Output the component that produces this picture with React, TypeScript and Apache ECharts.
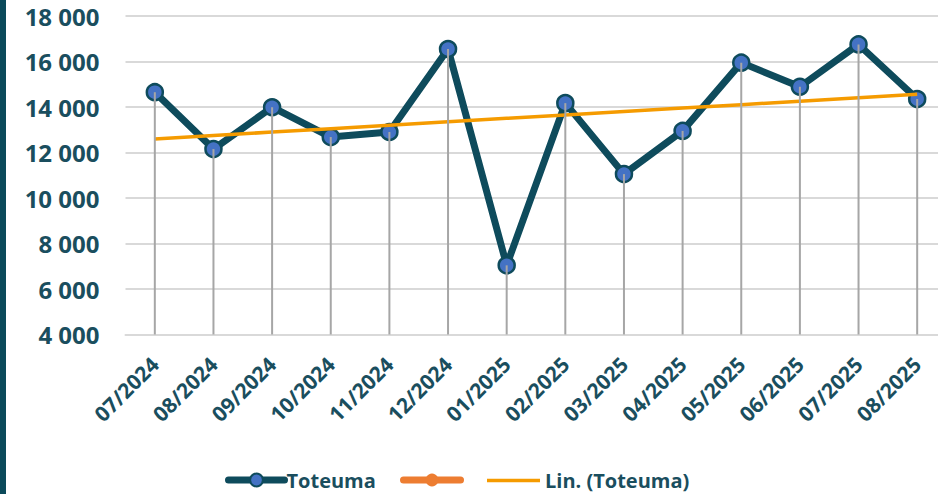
import React, { useEffect, useRef } from "react";
import * as echarts from "echarts";

const categories = [
  "07/2024", "08/2024", "09/2024", "10/2024", "11/2024", "12/2024", "01/2025",
  "02/2025", "03/2025", "04/2025", "05/2025", "06/2025", "07/2025", "08/2025",
];
const toteuma = [14650, 12150, 13990, 12680, 12900, 16550, 7040, 14170, 11050, 12950, 15950, 14890, 16750, 14350];
const yTicks = { min: 4000, max: 18000, interval: 2000 };

const DARK = "#0e4b5c";
const TEXT = "#1a4e5e";
const FONT = "'Open Sans', sans-serif";

function linearTrend(values: number[]): number[] {
  const n = values.length;
  const mx = (n - 1) / 2;
  const my = values.reduce((a, b) => a + b, 0) / n;
  let sxy = 0, sxx = 0;
  values.forEach((v, i) => { sxy += (i - mx) * (v - my); sxx += (i - mx) * (i - mx); });
  const slope = sxy / sxx;
  return values.map((_, i) => my + slope * (i - mx));
}

export default function App() {
  const ref = useRef<HTMLDivElement>(null);
  useEffect(() => {
    const chart = echarts.init(ref.current!, undefined, { renderer: "svg" });
    const trend = linearTrend(toteuma);
    const legendText = { color: TEXT, fontFamily: FONT, fontWeight: "bold" as const, fontSize: 20, padding: [0, 0, 0, -3] };
    const legendBase = { top: 470, padding: 0, itemHeight: 16, textStyle: legendText };
    chart.setOption({
      animation: false,
      backgroundColor: "#ffffff",
      graphic: [
        { type: "rect", left: 0, top: 0, shape: { width: 6, height: 494 }, style: { fill: "#0b4a5a" } },
      ],
      grid: { left: 125.5, top: 16, bottom: 159.5, width: 821, containLabel: false },
      legend: [
        { ...legendBase, data: ["Toteuma"], left: 225, itemWidth: 56, lineStyle: { width: 7, cap: "round" } },
        { ...legendBase, data: [" "], left: 400, itemWidth: 57, lineStyle: { width: 7, cap: "round" } },
        {
          ...legendBase,
          data: [{ name: "Lin. (Toteuma)", icon: "rect" }],
          left: 487,
          top: 470.5,
          itemWidth: 53,
          itemHeight: 3.5,
          textStyle: { ...legendText, padding: [0, 0, 0, 0] },
        },
      ],
      xAxis: {
        type: "category",
        data: categories,
        boundaryGap: true,
        axisTick: { show: false },
        axisLine: { lineStyle: { color: "#d9d9d9", width: 2 } },
        axisLabel: {
          interval: 0,
          rotate: 45,
          margin: 26,
          color: TEXT,
          fontFamily: FONT,
          fontWeight: "bold",
          fontSize: 21,
        },
      },
      yAxis: {
        type: "value",
        min: yTicks.min,
        max: yTicks.max,
        interval: yTicks.interval,
        axisLine: { show: false },
        axisTick: { show: false },
        splitLine: { lineStyle: { color: "#d9d9d9", width: 2 } },
        axisLabel: {
          margin: 26,
          color: TEXT,
          fontFamily: FONT,
          fontWeight: "bold",
          fontSize: 24,
          formatter: (v: number) => String(v).replace(/\B(?=(\d{3})+(?!\d))/g, " "),
        },
      },
      series: [
        {
          name: "Toteuma",
          type: "line",
          data: toteuma,
          symbol: "circle",
          symbolSize: 16,
          z: 2,
          lineStyle: { color: DARK, width: 7 },
          itemStyle: { color: "#4472c4", borderColor: DARK, borderWidth: 2.5 },
        },
        {
          name: " ",
          type: "line",
          data: [],
          symbol: "circle",
          symbolSize: 16,
          lineStyle: { color: "#ed7d31", width: 7 },
          itemStyle: { color: "#ed7d31" },
        },
        {
          name: "Lin. (Toteuma)",
          type: "line",
          data: trend,
          symbol: "none",
          z: 3,
          lineStyle: { color: "#f59b00", width: 3.5 },
          itemStyle: { color: "#f59b00" },
        },
        {
          name: "drop",
          type: "bar",
          data: toteuma,
          barWidth: 2,
          z: 4,
          itemStyle: { color: "#a6a6a6" },
        },
      ],
    });
    return () => chart.dispose();
  }, []);
  return (
    <div style={{ position: "absolute", left: 0, top: 0, width: 938, height: 494, overflow: "hidden" }}>
      <div ref={ref} style={{ width: 960, height: 494 }} />
    </div>
  );
}
